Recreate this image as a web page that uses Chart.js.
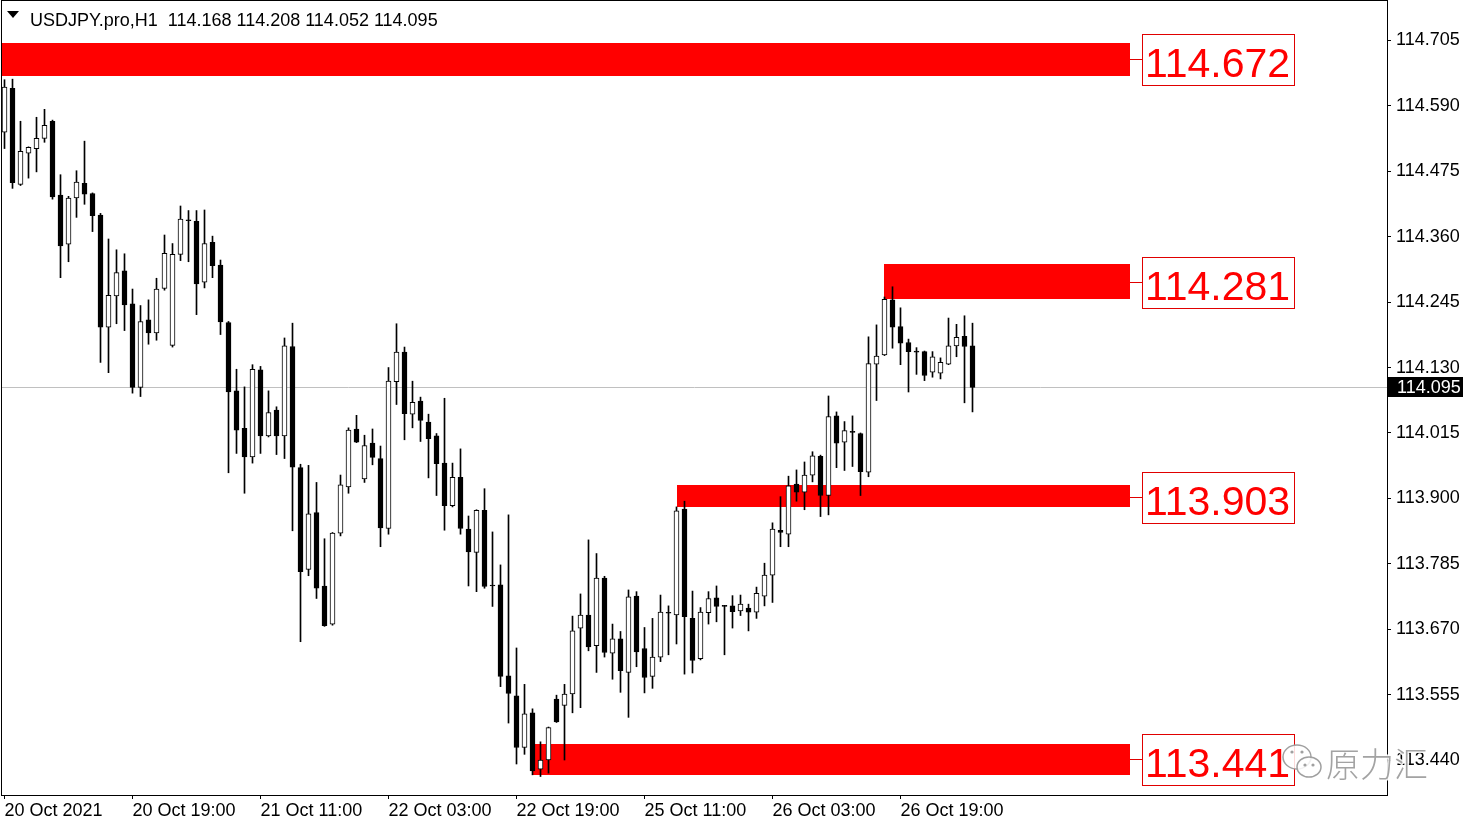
<!DOCTYPE html>
<html>
<head>
<meta charset="utf-8">
<script src="https://cdn.jsdelivr.net/npm/chart.js@4.4.0/dist/chart.umd.min.js"></script>
<style>
  html, body { margin: 0; padding: 0; background: #fff; overflow: hidden; }
  canvas { display: block; }
</style>
</head>
<body>
<canvas id="chart" width="1479" height="828"></canvas>
<script>
// USDJPY H1, 20 Oct 03:00 .. 27 Oct 04:00 (one entry per hourly bar)
const symbol = 'USDJPY.pro,H1';
const opens = [
  114.544, 114.621, 114.452, 114.507, 114.515, 114.533, 114.563, 114.433, 114.347, 114.428,
  114.454, 114.436, 114.398, 114.201, 114.256, 114.300, 114.242, 114.095, 114.214, 114.191,
  114.269, 114.169, 114.329, 114.389, 114.387, 114.280, 114.350, 114.310, 114.209, 114.089,
  114.023, 113.973, 114.126, 114.010, 114.055, 114.010, 114.167, 113.954, 113.775, 113.875,
  113.746, 113.679, 113.839, 113.920, 114.022, 113.934, 113.997, 113.970, 113.847, 114.105,
  114.157, 114.048, 114.071, 114.034, 114.010, 113.962, 113.887, 113.937, 113.846, 113.805,
  113.879, 113.746, 113.748, 113.588, 113.553, 113.462, 113.523, 113.424, 113.440, 113.547,
  113.536, 113.556, 113.672, 113.695, 113.641, 113.760, 113.628, 113.653, 113.594, 113.728,
  113.636, 113.587, 113.621, 113.698, 113.695, 113.881, 113.689, 113.618, 113.699, 113.725,
  113.711, 113.711, 113.702, 113.707, 113.700, 113.728, 113.765, 113.844, 113.837, 113.925,
  113.911, 113.941, 113.974, 113.905, 114.045, 113.999, 114.016, 114.014, 113.946, 114.136,
  114.152, 114.249, 114.202, 114.174, 114.158, 114.158, 114.122, 114.120, 114.136, 114.168,
  114.185, 114.168
];
const highs = [
  114.636, 114.637, 114.563, 114.518, 114.570, 114.584, 114.565, 114.469, 114.431, 114.476,
  114.528, 114.437, 114.401, 114.356, 114.337, 114.330, 114.268, 114.239, 114.249, 114.287,
  114.363, 114.348, 114.414, 114.406, 114.406, 114.407, 114.361, 114.319, 114.211, 114.127,
  114.096, 114.135, 114.132, 114.089, 114.061, 114.182, 114.208, 113.960, 113.958, 113.928,
  113.829, 113.840, 113.941, 114.024, 114.046, 114.011, 114.022, 113.992, 114.130, 114.207,
  114.166, 114.106, 114.078, 114.048, 114.014, 114.076, 113.962, 113.987, 113.869, 113.880,
  113.917, 113.841, 113.783, 113.871, 113.637, 113.573, 113.530, 113.472, 113.498, 113.554,
  113.573, 113.693, 113.732, 113.827, 113.803, 113.763, 113.679, 113.666, 113.739, 113.736,
  113.673, 113.689, 113.730, 113.711, 113.885, 113.895, 113.737, 113.708, 113.736, 113.746,
  113.712, 113.729, 113.730, 113.714, 113.744, 113.786, 113.857, 113.903, 113.939, 113.950,
  113.964, 113.982, 113.976, 114.080, 114.052, 114.035, 114.045, 114.015, 114.184, 114.205,
  114.254, 114.272, 114.235, 114.180, 114.165, 114.159, 114.158, 114.147, 114.217, 114.206,
  114.221, 114.208
];
const lows = [
  114.515, 114.445, 114.450, 114.463, 114.474, 114.526, 114.426, 114.288, 114.316, 114.394,
  114.417, 114.369, 114.139, 114.121, 114.207, 114.195, 114.085, 114.079, 114.171, 114.178,
  114.266, 114.166, 114.318, 114.316, 114.223, 114.270, 114.288, 114.188, 113.945, 113.979,
  113.909, 113.962, 113.979, 114.008, 113.977, 113.970, 113.843, 113.648, 113.764, 113.724,
  113.675, 113.677, 113.834, 113.909, 113.998, 113.928, 113.959, 113.815, 113.837, 114.065,
  114.003, 114.024, 114.000, 113.936, 113.905, 113.844, 113.885, 113.837, 113.746, 113.736,
  113.742, 113.710, 113.569, 113.505, 113.433, 113.450, 113.414, 113.411, 113.417, 113.506,
  113.440, 113.523, 113.532, 113.632, 113.594, 113.621, 113.582, 113.559, 113.515, 113.604,
  113.558, 113.566, 113.613, 113.625, 113.644, 113.591, 113.593, 113.616, 113.679, 113.683,
  113.625, 113.672, 113.694, 113.667, 113.689, 113.711, 113.717, 113.815, 113.815, 113.895,
  113.880, 113.929, 113.868, 113.871, 113.954, 113.949, 113.956, 113.905, 113.938, 114.072,
  114.151, 114.164, 114.135, 114.087, 114.118, 114.107, 114.113, 114.110, 114.135, 114.149,
  114.068, 114.052
];
const closes = [
  114.623, 114.455, 114.510, 114.517, 114.533, 114.556, 114.430, 114.344, 114.428, 114.456,
  114.435, 114.397, 114.201, 114.257, 114.297, 114.240, 114.095, 114.211, 114.191, 114.268,
  114.331, 114.329, 114.391, 114.388, 114.277, 114.348, 114.309, 114.210, 114.087, 114.020,
  113.973, 114.127, 114.010, 114.051, 114.010, 114.168, 113.955, 113.771, 113.873, 113.742,
  113.676, 113.839, 113.924, 114.020, 113.999, 113.993, 113.972, 113.848, 114.106, 114.157,
  114.049, 114.069, 114.037, 114.005, 113.961, 113.887, 113.937, 113.847, 113.806, 113.879,
  113.745, 113.747, 113.587, 113.557, 113.462, 113.521, 113.421, 113.440, 113.497, 113.507,
  113.556, 113.667, 113.695, 113.639, 113.760, 113.629, 113.653, 113.597, 113.727, 113.630,
  113.585, 113.621, 113.700, 113.699, 113.878, 113.692, 113.615, 113.700, 113.724, 113.710,
  113.710, 113.701, 113.714, 113.700, 113.733, 113.765, 113.846, 113.840, 113.922, 113.911,
  113.941, 113.975, 113.905, 114.044, 113.997, 114.019, 114.017, 113.947, 114.137, 114.150,
  114.250, 114.201, 114.173, 114.158, 114.157, 114.116, 114.149, 114.139, 114.168, 114.183,
  114.167, 114.095
];

const tickIndex = [0, 16, 32, 48, 64, 80, 96, 112];
const tickLabels = ['20 Oct 2021', '20 Oct 19:00', '21 Oct 11:00', '22 Oct 03:00',
                    '22 Oct 19:00', '25 Oct 11:00', '26 Oct 03:00', '26 Oct 19:00'];
const priceTicks = [113.440, 113.555, 113.670, 113.785, 113.900, 114.015,
                    114.130, 114.245, 114.360, 114.475, 114.590, 114.705];

// support / resistance zones drawn by hand on the chart
const zoneLevels  = [114.672, 114.281, 113.903, 113.441];
const zoneTops    = [114.700, 114.312, 113.924, 113.468];
const zoneBottoms = [114.643, 114.251, 113.884, 113.414];
const zoneStarts  = [-1, 110, 84, 66];
const zoneEnd = 140.7;

const idx = opens.map((_, i) => i);
const bodyColors = opens.map((o, i) => (closes[i] - o >= 0.0025 ? '#ffffff' : '#000000'));

Chart.defaults.font.family = '"Liberation Sans", Arial, sans-serif';
Chart.defaults.font.size = 18;
Chart.defaults.color = '#000';

const FONT = '"Liberation Sans", Arial, sans-serif';

// chart.js pads the plot for the outer tick labels, MT4 does not
function noPad(s) {
  s.paddingTop = 0;
  s.paddingBottom = 0;
  s.paddingLeft = 0;
  s.paddingRight = 0;
}

const zonesPlugin = {
  id: 'zones',
  beforeDatasetsDraw(chart) {
    const { ctx, chartArea, scales: { x, y } } = chart;
    ctx.save();
    ctx.beginPath();
    ctx.rect(chartArea.left, chartArea.top, chartArea.right - chartArea.left, chartArea.bottom - chartArea.top);
    ctx.clip();
    // last price line
    const py = Math.round(y.getPixelForValue(closes[closes.length - 1])) + 0.5;
    ctx.strokeStyle = '#c0c0c0';
    ctx.lineWidth = 1;
    ctx.beginPath();
    ctx.moveTo(chartArea.left, py);
    ctx.lineTo(chartArea.right, py);
    ctx.stroke();
    ctx.fillStyle = '#ff0000';
    zoneLevels.forEach((lv, k) => {
      const x0 = Math.max(chartArea.left, Math.round(x.getPixelForValue(zoneStarts[k])));
      const x1 = Math.round(x.getPixelForValue(zoneEnd));
      const y0 = Math.round(y.getPixelForValue(zoneTops[k]));
      const y1 = Math.round(y.getPixelForValue(zoneBottoms[k]));
      ctx.fillRect(x0, y0, x1 - x0, y1 - y0);
    });
    ctx.restore();
  },
  afterDraw(chart) {
    const { ctx, chartArea, scales: { x, y } } = chart;
    ctx.save();
    // frame
    ctx.strokeStyle = '#000';
    ctx.lineWidth = 1;
    ctx.strokeRect(chartArea.left - 0.5, chartArea.top - 0.5,
                   chartArea.right - chartArea.left + 1, chartArea.bottom - chartArea.top + 1);

    // zone labels
    const xe = Math.round(x.getPixelForValue(zoneEnd));
    zoneLevels.forEach((lv, k) => {
      const ly = Math.round(y.getPixelForValue(lv)) + 0.5;
      const bx = xe + 12;
      ctx.strokeStyle = '#e00000';
      ctx.beginPath();
      ctx.moveTo(xe, ly);
      ctx.lineTo(bx, ly);
      ctx.stroke();
      ctx.fillStyle = '#fff';
      ctx.fillRect(bx + 0.5, ly - 25, 152, 51);
      ctx.strokeRect(bx + 0.5, ly - 25, 152, 51);
      ctx.fillStyle = '#ff0000';
      ctx.font = '41px ' + FONT;
      ctx.textBaseline = 'alphabetic';
      ctx.textAlign = 'left';
      ctx.fillText(lv.toFixed(3), bx + 3, ly + 17);
    });

    // current price tag
    const last = closes.length - 1;
    const py = Math.round(y.getPixelForValue(closes[last]));
    ctx.fillStyle = '#000';
    ctx.fillRect(chartArea.right + 1, py - 10, 75, 20);
    ctx.fillStyle = '#fff';
    ctx.font = '18px ' + FONT;
    ctx.textBaseline = 'middle';
    ctx.fillText(closes[last].toFixed(3), chartArea.right + 10, py + 1);

    // title
    ctx.fillStyle = '#000';
    ctx.beginPath();
    ctx.moveTo(7, 11); ctx.lineTo(19, 11); ctx.lineTo(13, 18); ctx.closePath();
    ctx.fill();
    ctx.textBaseline = 'alphabetic';
    ctx.font = '18px ' + FONT;
    const t = symbol + '  ' + [opens[last], highs[last], lows[last], closes[last]]
      .map(v => v.toFixed(3)).join(' ');
    ctx.fillText(t, 30, 26);

    // watermark
    ctx.lineWidth = 1.5;
    ctx.strokeStyle = '#a0a0a0';
    ctx.fillStyle = 'rgba(255,255,255,0.85)';
    ctx.beginPath();
    ctx.ellipse(1297, 757, 14, 12, 0, 0, Math.PI * 2);
    ctx.fill(); ctx.stroke();
    ctx.beginPath();
    ctx.ellipse(1309, 767, 12, 10, 0, 0, Math.PI * 2);
    ctx.fill(); ctx.stroke();
    ctx.fillStyle = '#a0a0a0';
    [[1292, 752], [1302, 752], [1305, 765], [1313, 765]].forEach(([cx, cy]) => {
      ctx.beginPath(); ctx.arc(cx, cy, 1.6, 0, Math.PI * 2); ctx.fill();
    });
    ctx.font = '300 34px "Noto Sans CJK SC"';
    ctx.textBaseline = 'middle';
    ctx.strokeStyle = 'rgba(255,255,255,0.9)';
    ctx.lineWidth = 3;
    ctx.strokeText('原力汇', 1326, 764);
    ctx.fillStyle = '#a3a3a3';
    ctx.fillText('原力汇', 1326, 764);
    ctx.restore();
  }
};

const ctx = document.getElementById('chart');
const chart = new Chart(ctx, {
  type: 'bar',
  data: {
    datasets: [
      {
        label: 'body',
        data: idx.map(i => ({ x: i, y: [opens[i], closes[i]] })),
        backgroundColor: bodyColors,
        borderColor: '#000',
        borderWidth: 1,
        borderSkipped: false,
        barThickness: 5,
        minBarLength: 1,
        grouped: false,
        order: 0
      },
      {
        label: 'wick',
        data: idx.map(i => ({ x: i, y: [lows[i], highs[i]] })),
        backgroundColor: '#000',
        borderWidth: 0,
        barThickness: 1,
        grouped: false,
        order: 1
      }
    ]
  },
  options: {
    responsive: false,
    animation: false,
    events: [],
    layout: { padding: { left: 2, top: 1, right: 0, bottom: 0 } },
    plugins: { legend: { display: false }, tooltip: { enabled: false } },
    scales: {
      x: {
        type: 'linear',
        offset: false,
        min: -0.3125,
        max: 172.8125,
        afterBuildTicks: s => { s.ticks = tickIndex.map(v => ({ value: v })); },
        afterFit: s => { s.height = 33; noPad(s); },
        ticks: {
          autoSkip: false,
          maxRotation: 0,
          align: 'start',
          padding: 1,
          callback: v => tickLabels[tickIndex.indexOf(v)]
        },
        grid: { display: true, offset: false, drawOnChartArea: false, tickLength: 4, color: '#000' },
        border: { display: true, color: '#000' }
      },
      y: {
        position: 'right',
        min: 113.3785,
        max: 114.7744,
        afterBuildTicks: s => { s.ticks = priceTicks.map(v => ({ value: v })); },
        afterFit: s => { s.width = 92; noPad(s); },
        ticks: {
          padding: 5,
          crossAlign: 'near',
          callback: v => v.toFixed(3)
        },
        grid: { display: true, drawOnChartArea: false, tickLength: 4, color: '#000' },
        border: { display: true, color: '#000' }
      }
    }
  },
  plugins: [zonesPlugin]
});
</script>
</body>
</html>
